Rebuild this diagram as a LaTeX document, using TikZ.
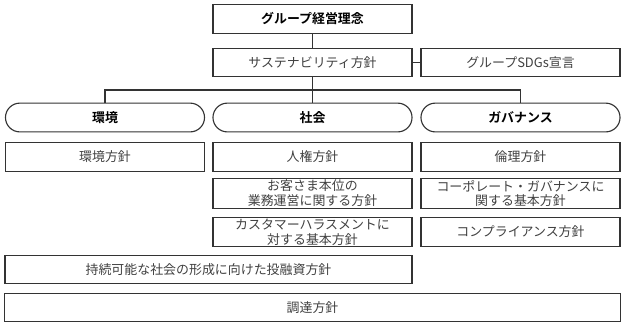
\documentclass[tikz,border=0pt]{standalone}
\usepackage{fontspec}
\setmainfont{Noto Sans CJK JP}[BoldFont={Noto Sans CJK JP Bold}]

\begin{document}
\begin{tikzpicture}[
    x=0.025cm, y=-0.025cm,
    font=\fontsize{9.2}{10.6}\selectfont,
    box/.style={draw=black!80, line width=0.8pt, minimum height=0.72cm,
      inner sep=1pt, align=center, text=black!75},
    colbox/.style={box, minimum width=4.975cm},
    bold/.style={text=black, font=\fontsize{9.2}{10.6}\selectfont\bfseries},
    head/.style={colbox, bold, rounded corners=0.36cm},
    link/.style={draw=black!80, line width=0.8pt}
  ]
  \useasboundingbox (0,0) rectangle (624,325);

  \def\xL{105}
  \def\xC{312.5}
  \def\xR{520.5}

  % top of the tree
  \node[colbox, bold] (rinen) at (\xC,19) {グループ経営理念};
  \node[colbox] (susta) at (\xC,62.5) {サステナビリティ方針};
  \node[colbox] (sdgs) at (\xR,62.5) {グループSDGs宣言};

  \draw[link] (rinen) -- (susta);
  \draw[link] (susta) -- (sdgs);

  % the three fields
  \foreach \name/\x/\lbl in {kankyo/\xL/環境, shakai/\xC/社会, gov/\xR/ガバナンス} {
    \node[head] (\name) at (\x,117.5) {\lbl};
  }

  \coordinate (bus) at (\xC,90);
  \draw[link] (susta) -- (bus);
  \draw[link] (kankyo.north) -- (kankyo.north |- bus) -- (gov.north |- bus)
  -- (gov.north);
  \draw[link] (bus) -- (shakai.north);

  % policies under each field
  \node[colbox] (kankyoP) at (\xL,157) {環境方針};
  \node[colbox] (jinken) at (\xC,157) {人権方針};
  \node[colbox] (rinri) at (\xR,157) {倫理方針};

  \node[colbox] (kyaku) at (\xC,193.5) {お客さま本位の\\業務運営に関する方針};
  \node[colbox] (cg) at (\xR,193.5) {コーポレート・ガバナンスに\\関する基本方針};

  \node[colbox] (kasuhara) at (\xC,232) {カスタマーハラスメントに\\対する基本方針};
  \node[colbox] (compl) at (\xR,232) {コンプライアンス方針};

  % wide rows
  \node[box, minimum width=10.175cm] (toyushi) at (208.5,269.5)
  {持続可能な社会の形成に向けた投融資方針};
  \node[box, minimum width=15.375cm] (chotatsu) at (312.5,307.5) {調達方針};

\end{tikzpicture}
\end{document}
